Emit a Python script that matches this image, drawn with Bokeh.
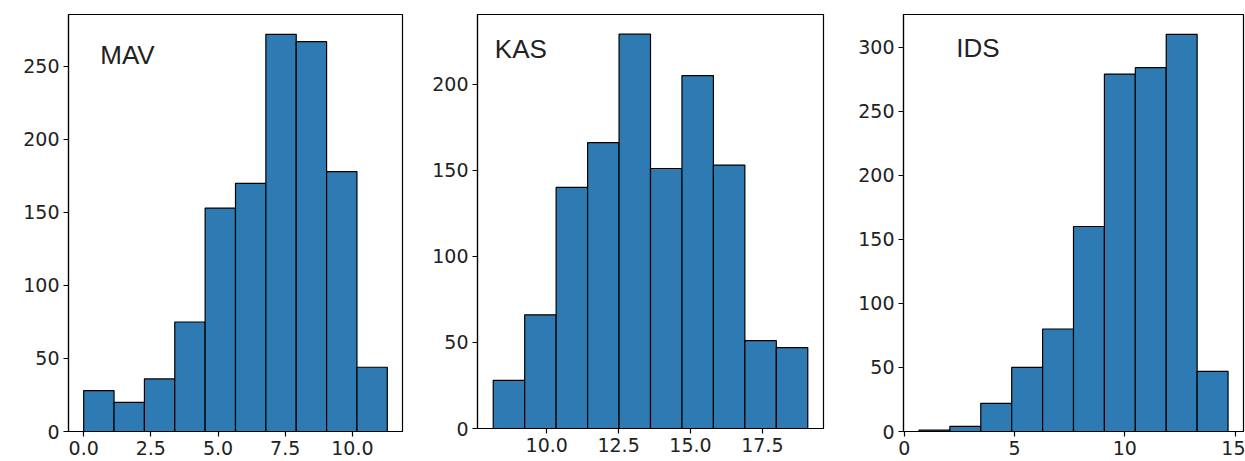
import numpy as np
from bokeh.plotting import figure
from bokeh.layouts import row
from bokeh.models import Range1d, FixedTicker, Label, NumeralTickFormatter
from bokeh.embed import file_html
from bokeh.resources import INLINE

# ---- data ----
mav_counts = [28, 20, 36, 75, 153, 170, 272, 267, 178, 44]
mav_range = [0.0, 11.3]
kas_counts = [28, 66, 140, 166, 229, 151, 205, 153, 51, 47]
kas_range = [8.14, 19.08]
ids_counts = [1, 4, 22, 50, 80, 160, 279, 284, 310, 47]
ids_range = [0.67, 14.68]

mav_xticks = [0.0, 2.5, 5.0, 7.5, 10.0]
kas_xticks = [10.0, 12.5, 15.0, 17.5]
ids_xticks = [0, 5, 10, 15]
mav_yticks = [0, 50, 100, 150, 200, 250]
kas_yticks = [0, 50, 100, 150, 200]
ids_yticks = [0, 50, 100, 150, 200, 250, 300]
titles = ["MAV", "KAS", "IDS"]

BAR = "#2e7ab2"
TICK_FONT = "DejaVu Sans"
TICK_SIZE = "19px"


def panel(counts, rng, xticks, yticks, title, fmt, fw, fh, bl, br, bt, bb, lab_fx, lab_fy):
    edges = np.linspace(rng[0], rng[1], len(counts) + 1)
    w = rng[1] - rng[0]
    xr = Range1d(rng[0] - 0.05 * w, rng[1] + 0.05 * w)
    ymax = max(counts) * 1.05
    yr = Range1d(0, ymax)
    p = figure(frame_width=fw, frame_height=fh, x_range=xr, y_range=yr,
               output_backend="svg", toolbar_location=None,
               min_border_left=bl, min_border_right=br, min_border_top=bt,
               min_border_bottom=bb)
    p.quad(left=edges[:-1], right=edges[1:], bottom=0, top=counts,
           fill_color=BAR, line_color="black", line_width=1.2)
    p.xgrid.visible = False
    p.ygrid.visible = False
    p.outline_line_color = "black"
    p.outline_line_width = 1.2
    p.outline_line_alpha = 1
    for ax in (p.xaxis[0], p.yaxis[0]):
        ax.axis_line_color = "black"
        ax.axis_line_width = 1.2
        ax.major_tick_line_color = "black"
        ax.major_tick_line_width = 1.2
        ax.major_tick_out = 5
        ax.major_tick_in = 0
        ax.minor_tick_line_color = None
        ax.major_label_text_font = TICK_FONT
        ax.major_label_text_font_size = TICK_SIZE
        ax.major_label_text_color = "#222222"
        ax.major_label_standoff = 4
    p.xaxis.ticker = FixedTicker(ticks=xticks)
    p.yaxis.ticker = FixedTicker(ticks=yticks)
    p.xaxis.formatter = NumeralTickFormatter(format=fmt)
    lx = xr.start + lab_fx * (xr.end - xr.start)
    ly = lab_fy * ymax
    p.add_layout(Label(x=lx, y=ly, y_offset=10, text=title,
                       text_font="Liberation Sans",
                       text_font_size="26px", text_color="#222222",
                       text_baseline="alphabetic"))
    return p


p1 = panel(mav_counts, mav_range, mav_xticks, mav_yticks, titles[0], "0.0",
           334, 417, 68, 18, 14, 30, 0.095, 0.88)
p2 = panel(kas_counts, kas_range, kas_xticks, kas_yticks, titles[1], "0.0",
           346, 414, 57, 17, 14, 33, 0.05, 0.893)
p3 = panel(ids_counts, ids_range, ids_xticks, ids_yticks, titles[2], "0",
           340, 417, 63, 2, 14, 30, 0.155, 0.895)

layout = row(p1, p2, p3)
open("out.html", "w").write(file_html(layout, INLINE))
